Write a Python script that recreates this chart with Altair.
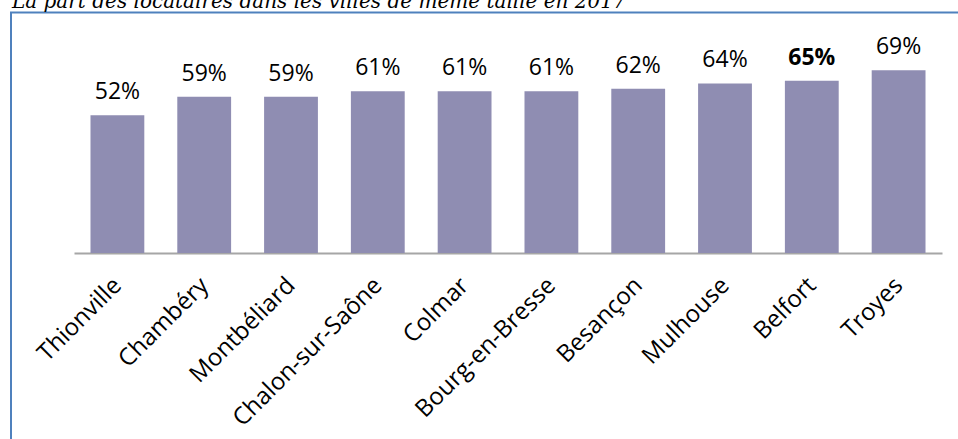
import altair as alt
import pandas as pd

villes = ["Thionville", "Chambéry", "Montbéliard", "Chalon-sur-Saône", "Colmar",
          "Bourg-en-Bresse", "Besançon", "Mulhouse", "Belfort", "Troyes"]
parts = [0.52, 0.59, 0.59, 0.61, 0.61, 0.61, 0.62, 0.64, 0.65, 0.69]
gras = [False, False, False, False, False, False, False, False, True, False]
titre = "La part des locataires dans les villes de même taille en 2017"

df = pd.DataFrame({"ville": villes, "part": parts, "gras": gras})

FONT = "Open Sans"
x = alt.X("ville:N", sort=villes, title=None,
          scale=alt.Scale(paddingInner=0.38, paddingOuter=0.19),
          axis=alt.Axis(labelAngle=-45, labelAlign="right", labelBaseline="top",
                        labelFont=FONT, labelFontSize=24, labelLimit=0,
                        labelColor="#000000", ticks=False, domainColor="#A6A6A6",
                        domainWidth=2, labelPadding=20, labelOffset=-8))
y = alt.Y("part:Q", scale=alt.Scale(domain=[0, 0.8]), axis=None)

base = alt.Chart(df)
bars = base.mark_bar(color="#8F8DB2").encode(x=x, y=y)
labels_n = base.transform_filter("!datum.gras").mark_text(
    baseline="alphabetic", dy=-16, font=FONT, fontSize=23, color="#000000"
).encode(x=x, y=y, text=alt.Text("part:Q", format=".0%"))
labels_b = base.transform_filter("datum.gras").mark_text(
    baseline="alphabetic", dy=-16, font=FONT, fontSize=23, fontWeight="bold", color="#000000"
).encode(x=x, y=y, text=alt.Text("part:Q", format=".0%"))

cadre = alt.Chart(alt.Data(values=[{}])).mark_rect(
    fill=None, stroke="#4F81BD", strokeWidth=2
).encode(x=alt.value(-63), x2=alt.value(1000), y=alt.value(-28.5), y2=alt.value(500))

texte_titre = alt.Chart(alt.Data(values=[{"t": titre}])).mark_text(
    align="left", baseline="alphabetic", font="DejaVu Serif", fontStyle="italic",
    fontSize=20, color="#000000"
).encode(x=alt.value(-62), y=alt.value(-33), text="t:N")

chart = alt.layer(cadre, bars, labels_n, labels_b, texte_titre).properties(
    width=868, height=212,
    autosize=alt.AutoSizeParams(type="none"),
    padding={"left": 74, "top": 41, "right": 16, "bottom": 186},
).configure_view(stroke=None)

chart.save("out.html", embed_options={"renderer": "svg", "actions": False})
